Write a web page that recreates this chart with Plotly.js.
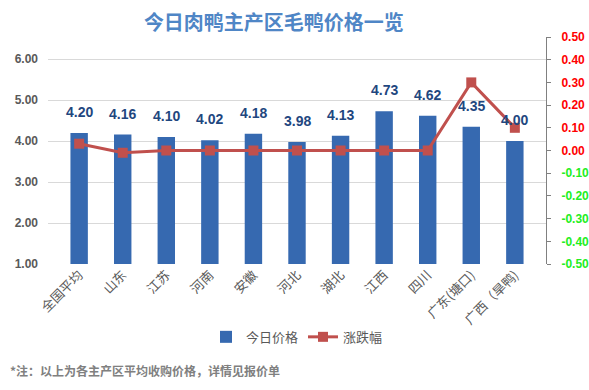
<!DOCTYPE html>
<html><head><meta charset="utf-8">
<script src="https://cdn.plot.ly/plotly-3.0.1.min.js"></script>
<style>body{margin:0;background:#fff}#c{width:589px;height:390px}</style>
</head><body><div id="c"></div>
<script>
const categories = ['全国平均','山东','江苏','河南','安徽','河北','湖北','江西','四川','广东(塘口)','广西（旱鸭)'];
const prices = [4.20,4.16,4.10,4.02,4.18,3.98,4.13,4.73,4.62,4.35,4.00];
const changes = [0.03,-0.01,0.00,0.00,0.00,0.00,0.00,0.00,0.00,0.30,0.10];
const leftTicks = [1,2,3,4,5,6];
const rightTicks = [0.5,0.4,0.3,0.2,0.1,0,-0.1,-0.2,-0.3,-0.4,-0.5];

const rightText = rightTicks.map(v => {
  const s = v.toFixed(2);
  const col = v < 0 ? '#22ee22' : '#ff0000';
  return '<span style="color:' + col + '">' + s + '</span>';
});

const traces = [
  {type:'bar', name:'今日价格', x:categories, y:prices, width:0.4,
   marker:{color:'#3669b0'}, hoverinfo:'none'},
  {type:'scatter', mode:'lines+markers', name:'涨跌幅', x:categories, y:changes, yaxis:'y2',
   line:{color:'#c0504d', width:3}, marker:{symbol:'square', size:10, color:'#c0504d'}}
];

const annotations = categories.map((c,i)=>({
  x:c, y:prices[i], xref:'x', yref:'y', text:prices[i].toFixed(2), showarrow:false,
  yanchor:'bottom', yshift:11, font:{family:'Liberation Sans, Arial', size:14, color:'#1f477f', weight:'bold'}
}));
annotations.push({xref:'paper', yref:'paper', x:-0.08, y:-0.47, xanchor:'left', yanchor:'middle',
  text:'*注：以上为各主产区平均收购价格，详情见报价单', showarrow:false,
  font:{family:'Noto Sans CJK SC', size:12, color:'#808080', weight:'bold'}});

const layout = {
  width:589, height:390,
  margin:{l:48, r:43, t:37, b:126},
  paper_bgcolor:'#fff', plot_bgcolor:'#fff',
  title:{text:'今日肉鸭主产区毛鸭价格一览', x:0.465, xanchor:'center', y:0.94, yanchor:'middle',
    font:{family:'Noto Sans CJK SC', size:20, color:'#4f86c6', weight:'bold'}},
  showlegend:true,
  legend:{orientation:'h', x:0.5, xanchor:'center', y:-0.255, yanchor:'top',
    font:{family:'Noto Sans CJK SC', size:13, color:'#595959'}},
  xaxis:{tickangle:-45, tickfont:{family:'Noto Sans CJK SC', size:13, color:'#595959'},
    showline:false, ticks:'', showgrid:false},
  yaxis:{range:[1,6.54], tickvals:leftTicks, tickformat:'.2f', ticklabelstandoff:9,
    tickfont:{family:'Liberation Sans, Arial', size:12, color:'#595959', weight:'bold'},
    gridcolor:'#d9d9d9', zeroline:false, showline:false},
  yaxis2:{overlaying:'y', side:'right', range:[-0.5,0.5], tickvals:rightTicks, ticktext:rightText,
    tickfont:{family:'Liberation Sans, Arial', size:12, weight:'bold'}, ticklabelstandoff:8,
    showgrid:false, zeroline:false, showline:true, linecolor:'#808080', ticks:'outside', ticklen:4, tickcolor:'#808080'},
  annotations:annotations,
  bargap:0.6
};
Plotly.newPlot('c', traces, layout, {displayModeBar:false, staticPlot:true});
</script></body></html>
